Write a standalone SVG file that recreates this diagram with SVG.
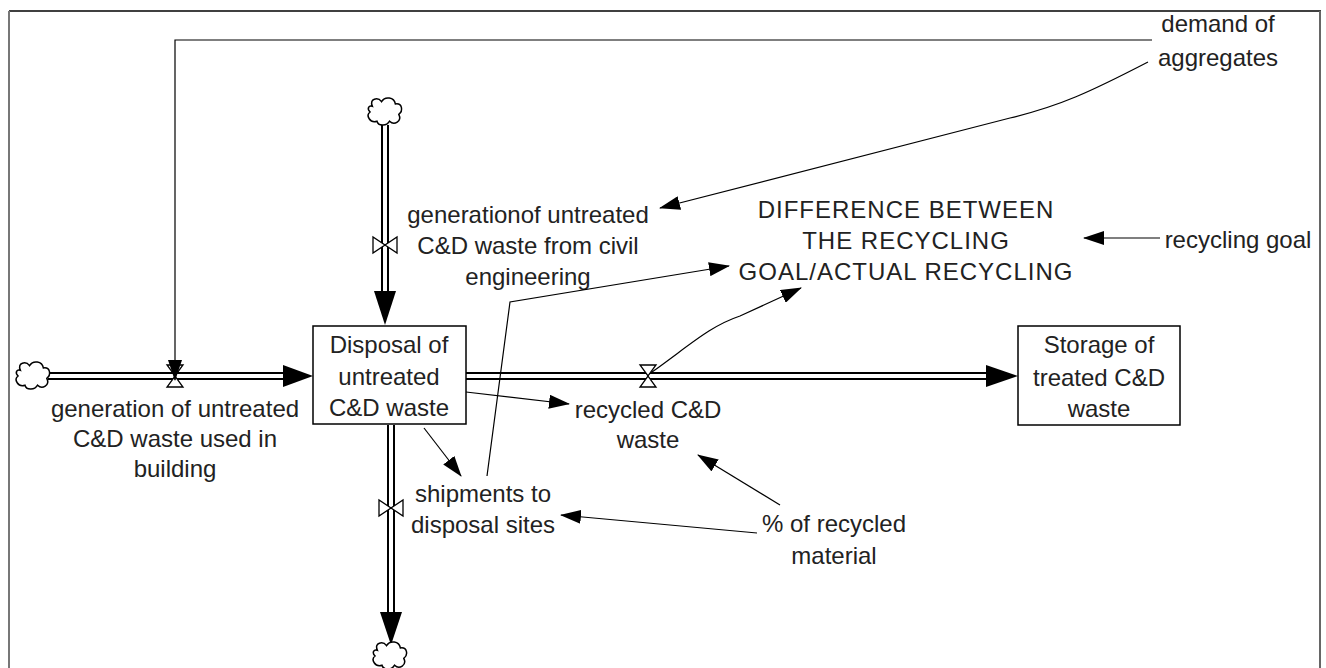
<svg xmlns="http://www.w3.org/2000/svg" width="1326" height="668" viewBox="0 0 1326 668">
<style>
text{font-family:"Liberation Sans",Arial,sans-serif;font-size:24px;fill:#222;text-anchor:middle}
.caps{letter-spacing:1px}
.pipeO{stroke:#000;stroke-width:8;fill:none}
.pipeI{stroke:#fff;stroke-width:4;fill:none}
.head{fill:#000}
.valve{fill:#fff;stroke:#000;stroke-width:1.3}
.link{stroke:#000;stroke-width:1.2;fill:none;marker-end:url(#ah)}
.stock{fill:#fff;stroke:#000;stroke-width:1.5}
.cloud{fill:#fff;stroke:#000;stroke-width:1.3}
</style>
<defs>
<marker id="ah" markerUnits="userSpaceOnUse" markerWidth="21" markerHeight="14" refX="20" refY="7" orient="auto">
<path d="M0,0 L21,7 L0,14 Z" fill="#000"/>
</marker>
<path id="cl" transform="scale(1.15)" d="M-11,-5 C-14,-12 -6,-13 -3,-9 C0,-14 8,-13 9,-7 C15,-8 16,-1 12,2 C15,8 8,12 4,8 C1,13 -6,12 -7,8 C-13,10 -17,3 -13,0 C-16,-3 -14,-6 -11,-5 Z"/>
</defs>
<rect width="1326" height="668" fill="#fff"/>
<g id="frame">
<line x1="9" y1="11" x2="1321" y2="11" stroke="#000" stroke-width="1.5"/>
<line x1="9" y1="11" x2="9" y2="668" stroke="#777" stroke-width="2"/>
<line x1="1320" y1="11" x2="1320" y2="668" stroke="#666" stroke-width="2"/>
</g>
<g id="pipes">
<path class="pipeO" d="M48,376 H286"/><path class="pipeI" d="M48,376 H287"/>
<polygon class="head" points="283,365 313,376 283,387"/>
<path class="pipeO" d="M385,125 V293"/><path class="pipeI" d="M385,125 V294"/>
<polygon class="head" points="374,291 385,325 396,291"/>
<path class="pipeO" d="M391,425 V614"/><path class="pipeI" d="M391,425 V615"/>
<polygon class="head" points="380,612 391,645 402,612"/>
<path class="pipeO" d="M466,376 H988"/><path class="pipeI" d="M466,376 H989"/>
<polygon class="head" points="986,365 1018,376 986,387"/>
</g>
<g id="clouds">
<use href="#cl" class="cloud" x="33" y="376"/>
<use href="#cl" class="cloud" x="385" y="112"/>
<use href="#cl" class="cloud" x="390" y="656"/>
</g>
<g id="valve-building">
<polygon class="valve" points="167,365 183,365 175,376"/>
<polygon class="valve" points="167,387 183,387 175,376"/>
<text x="175" y="417">generation of untreated</text>
<text x="175" y="447">C&amp;D waste used in</text>
<text x="175" y="477">building</text>
</g>
<g id="valve-civil">
<polygon class="valve" points="373,237 373,253 385,245"/>
<polygon class="valve" points="397,237 397,253 385,245"/>
<text x="528" y="223">generationof untreated</text>
<text x="528" y="254">C&amp;D waste from civil</text>
<text x="528" y="285">engineering</text>
</g>
<g id="valve-shipments">
<polygon class="valve" points="379,500 379,516 391,508"/>
<polygon class="valve" points="403,500 403,516 391,508"/>
<text x="483" y="502">shipments to</text>
<text x="483" y="533">disposal sites</text>
</g>
<g id="valve-recycled">
<polygon class="valve" points="640,365 656,365 648,376"/>
<polygon class="valve" points="640,387 656,387 648,376"/>
<text x="648" y="418">recycled C&amp;D</text>
<text x="648" y="448">waste</text>
</g>
<g id="stock-disposal">
<rect class="stock" x="313" y="326" width="153" height="98"/>
<text x="389" y="353">Disposal of</text>
<text x="389" y="385">untreated</text>
<text x="389" y="416">C&amp;D waste</text>
</g>
<g id="stock-storage">
<rect class="stock" x="1018" y="326" width="162" height="99"/>
<text x="1099" y="353">Storage of</text>
<text x="1099" y="386">treated C&amp;D</text>
<text x="1099" y="417">waste</text>
</g>
<g id="difference">
<text class="caps" x="906" y="218">DIFFERENCE BETWEEN</text>
<text class="caps" x="906" y="249">THE RECYCLING</text>
<text class="caps" x="906" y="280">GOAL/ACTUAL RECYCLING</text>
</g>
<g id="recycling-goal"><text x="1238" y="248">recycling goal</text></g>
<g id="demand"><text x="1218" y="32">demand of</text><text x="1218" y="66">aggregates</text></g>
<g id="percent"><text x="834" y="532">% of recycled</text><text x="834" y="564">material</text></g>
<g id="connectors">
<path class="link" d="M1152,40 H175 V380"/>
<path class="link" d="M1148,62 C1090,92 1060,106 1010,118 L660,208"/>
<path class="link" d="M487,476 L510,302 L729,266"/>
<path class="link" d="M652,372 C690,345 710,326 740,316 L801,288"/>
<path class="link" d="M1160,238 L1084,238"/>
<path class="link" d="M466,392 L569,404"/>
<path class="link" d="M424,428 L461,476"/>
<path class="link" d="M780,505 L698,455"/>
<path class="link" d="M757,533 L561,515"/>
</g>
</svg>
